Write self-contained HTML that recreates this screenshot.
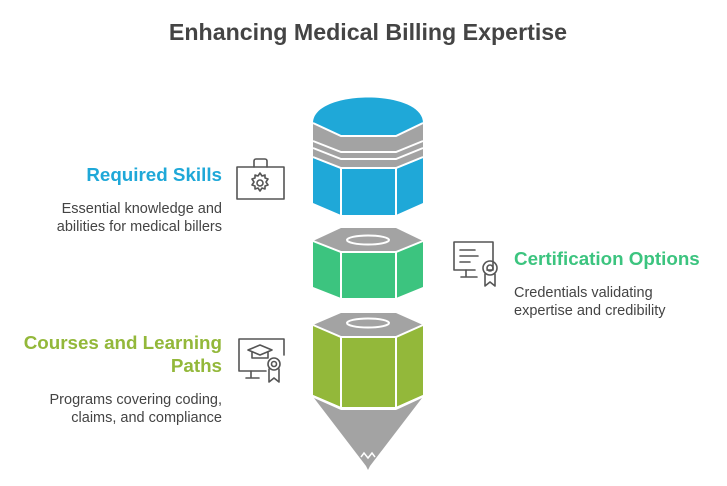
<!DOCTYPE html>
<html><head><meta charset="utf-8"><style>
html,body{margin:0;padding:0;background:#fff;width:727px;height:486px;overflow:hidden;font-family:"Liberation Sans",sans-serif;}
</style></head><body>
<svg width="727" height="486" viewBox="0 0 727 486" xmlns="http://www.w3.org/2000/svg" font-family="Liberation Sans, sans-serif">
<text x="368" y="40" text-anchor="middle" font-size="23.2" font-weight="bold" fill="#444">Enhancing Medical Billing Expertise</text>

<path d="M313,123 C313,89 423,89 423,123 L396,136 L341,136 Z" fill="#1fa8d8"/>
<polygon points="313,123 341,136 396,136 423,123 423,157 396,168 341,168 313,157" fill="#a3a3a3"/>
<g stroke="#fff" stroke-width="2" fill="none">
<polyline points="313,123 341,136 396,136 423,123"/>
<polyline points="313,141 341,152 396,152 423,141"/>
<polyline points="313,148 341,159 396,159 423,148"/>
</g>
<polygon points="313,158 341,169 396,169 423,158 423,203 396,215 341,215 313,203" fill="#1fa8d8"/>
<g stroke="#fff" stroke-width="2" fill="none">
<polyline points="313,157 341,168 396,168 423,157"/>
<line x1="341" y1="168" x2="341" y2="216"/><line x1="396" y1="168" x2="396" y2="216"/>
</g>

<polygon points="341,228 396,228 423,241 396,252 341,252 313,241" fill="#a3a3a3"/>
<polygon points="313,241 341,252 396,252 423,241 423,287 396,298 341,298 313,287" fill="#3cc47f"/>
<g stroke="#fff" stroke-width="2" fill="none">
<polyline points="313,241 341,252 396,252 423,241"/>
<line x1="341" y1="252" x2="341" y2="299"/><line x1="396" y1="252" x2="396" y2="299"/>
<ellipse cx="368" cy="240" rx="21" ry="4.5"/>
</g>

<polygon points="341,313 396,313 423,325 396,337 341,337 313,325" fill="#a3a3a3"/>
<polygon points="313,325 341,337 396,337 423,325 423,395 396,407 341,407 313,395" fill="#93b83a"/>
<g stroke="#fff" stroke-width="2" fill="none">
<polyline points="313,325 341,337 396,337 423,325"/>
<line x1="341" y1="337" x2="341" y2="408"/><line x1="396" y1="337" x2="396" y2="408"/>
<polyline points="313,396 341,408 396,408 423,396"/>
<ellipse cx="368" cy="323" rx="21" ry="4.5"/>
</g>
<polygon points="314,398 341,410 396,410 422,398 370,466 368,470 366,466" fill="#a3a3a3"/>
<polyline points="361,457 364,453 368,458 372,453 375,457" stroke="#fff" stroke-width="1.5" fill="none"/>

<text x="222" y="181" text-anchor="end" font-size="18.8" font-weight="bold" fill="#1fa8d8">Required Skills</text>
<text x="222" y="213" text-anchor="end" font-size="14.5" fill="#444">Essential knowledge and</text>
<text x="222" y="231" text-anchor="end" font-size="14.5" fill="#444">abilities for medical billers</text>

<text x="514" y="265" font-size="18.8" font-weight="bold" fill="#3cc47f">Certification Options</text>
<text x="514" y="297" font-size="14.5" fill="#444">Credentials validating</text>
<text x="514" y="315" font-size="14.5" fill="#444">expertise and credibility</text>

<text x="222" y="349" text-anchor="end" font-size="18.8" font-weight="bold" fill="#93b83a">Courses and Learning</text>
<text x="222" y="372" text-anchor="end" font-size="18.8" font-weight="bold" fill="#93b83a">Paths</text>
<text x="222" y="404" text-anchor="end" font-size="14.5" fill="#444">Programs covering coding,</text>
<text x="222" y="422" text-anchor="end" font-size="14.5" fill="#444">claims, and compliance</text>

<g stroke="#555" stroke-width="1.6" fill="none" stroke-linejoin="round" stroke-linecap="round">
<rect x="237" y="167" width="47" height="32"/>
<path d="M254,167 v-6 a2,2 0 0 1 2,-2 h9 a2,2 0 0 1 2,2 v6"/>
<circle cx="260" cy="183" r="3"/>
<path d="M260,173 l2,3 3,-1 0,3 3,1 -2,3 2,3 -3,1 0,3 -3,-1 -2,3 -2,-3 -3,1 0,-3 -3,-1 2,-3 -2,-3 3,-1 0,-3 3,1 z"/>
<path d="M487,270 h6 v-28 h-39 v28 h21"/>
<path d="M466,270 v6 M461,277 h16"/>
<line x1="460" y1="250" x2="475" y2="250"/><line x1="460" y1="256" x2="478" y2="256"/><line x1="460" y1="262" x2="470" y2="262"/>
<circle cx="490" cy="268" r="7"/><circle cx="490" cy="268" r="3"/>
<path d="M485,274 v12 l5,-4 5,4 v-12"/>
<path d="M266,371 h-27 v-32 h45 v16"/>
<path d="M251,371 v6 M246,378 h13"/>
<path d="M248,350 l12,-5 12,5 -12,5 z M252,352 v6 h16 v-6"/>
<circle cx="274" cy="364" r="6"/><circle cx="274" cy="364" r="2.5"/>
<path d="M269,369 v13 l5,-4 5,4 v-13"/>
</g>
</svg>
</body></html>
